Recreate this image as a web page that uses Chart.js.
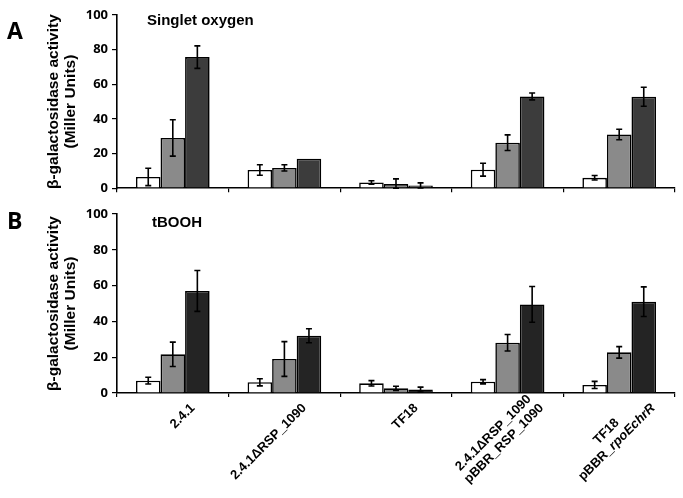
<!DOCTYPE html>
<html>
<head>
<meta charset="utf-8">
<script src="https://cdn.jsdelivr.net/npm/chart.js@4.4.1/dist/chart.umd.min.js"></script>
<style>
  html, body { margin: 0; padding: 0; background: #fff; }
  #wrap { position: relative; width: 683px; height: 498px; }
  canvas { position: absolute; left: 0; }
  #canvasA { top: 0; }
  #canvasB { top: 200px; }
</style>
</head>
<body>
<div id="wrap">
  <canvas id="canvasA" width="683" height="200"></canvas>
  <canvas id="canvasB" width="683" height="298"></canvas>
</div>
<script>
  //-----------------------
  // - DATA -
  //-----------------------
  const strains = [
    ['2.4.1'],
    ['2.4.1ΔRSP_1090'],
    ['TF18'],
    ['2.4.1ΔRSP_1090', 'pBBR_RSP_1090'],
    ['TF18', 'pBBR_rpoEchrR']
  ];
  const italicPart = 'rpoEchrR';
  const yTicks = [0, 20, 40, 60, 80, 100];

  // panel A - singlet oxygen
  const singletWhite = [6.5, 10.5, 3.3, 10.7, 6.0];
  const singletWhiteErr = [5.0, 3.0, 1.0, 3.7, 1.3];
  const singletGray = [29, 11.7, 2.4, 26.3, 31.0];
  const singletGrayErr = [10.5, 1.8, 3.0, 4.5, 3.0];
  const singletDark = [75.7, 17.0, 1.6, 53.0, 52.8];
  const singletDarkErr = [6.5, 0, 1.5, 2.0, 5.5];

  // panel B - tBOOH
  const tboohWhite = [6.9, 6.0, 5.4, 6.3, 4.5];
  const tboohWhiteErr = [1.9, 2.0, 1.5, 1.2, 2.0];
  const tboohGray = [21.6, 19.0, 2.6, 28.1, 22.7];
  const tboohGrayErr = [6.8, 9.7, 1.2, 4.6, 3.2];
  const tboohDark = [57.0, 32.0, 1.9, 49.5, 51.0];
  const tboohDarkErr = [11.4, 3.9, 1.4, 10.0, 8.3];

  //-----------------------
  // - PLUGINS -
  //-----------------------
  const errorBars = {
    id: 'errorBars',
    afterDatasetsDraw(chart) {
      const ctx = chart.ctx;
      const y = chart.scales.y;
      ctx.save();
      ctx.strokeStyle = '#000';
      ctx.lineWidth = 1.6;
      chart.data.datasets.forEach((ds, i) => {
        const meta = chart.getDatasetMeta(i);
        meta.data.forEach((bar, j) => {
          const e = ds.errors[j];
          if (!e) return;
          const top = y.getPixelForValue(ds.data[j] + e);
          const bot = y.getPixelForValue(Math.max(0, ds.data[j] - e));
          ctx.beginPath();
          ctx.moveTo(bar.x, top); ctx.lineTo(bar.x, bot);
          ctx.moveTo(bar.x - 3, top); ctx.lineTo(bar.x + 3, top);
          ctx.moveTo(bar.x - 3, bot); ctx.lineTo(bar.x + 3, bot);
          ctx.stroke();
        });
      });
      ctx.restore();
    }
  };

  const panelText = {
    id: 'panelText',
    afterDraw(chart, args, opts) {
      const ctx = chart.ctx;
      const area = chart.chartArea;
      ctx.save();
      ctx.fillStyle = '#000';
      ctx.textBaseline = 'alphabetic';
      ctx.textAlign = 'left';
      ctx.font = 'bold 23px "Open Sans"';
      ctx.fillText(opts.letter, 7, area.top + opts.letterDy);
      ctx.font = 'bold 15px "Liberation Sans"';
      ctx.fillText(opts.title, area.left + opts.titleDx, area.top + opts.titleDy);
      ctx.restore();
    }
  };

  // rotated strain names under the lower panel (part of the last one is italic)
  const strainLabels = {
    id: 'strainLabels',
    afterDraw(chart, args, opts) {
      if (!opts.show) return;
      const ctx = chart.ctx;
      const x = chart.scales.x;
      const axisY = chart.chartArea.bottom;
      const lh = 15;
      const norm = 'bold 13px "Liberation Sans"';
      const ital = 'italic bold 13px "Liberation Sans"';
      ctx.save();
      ctx.fillStyle = '#000';
      ctx.textBaseline = 'middle';
      ctx.textAlign = 'left';
      strains.forEach((lines, i) => {
        const parts = lines.map(line => {
          const k = line.indexOf(italicPart);
          if (k < 0) return [[line, norm]];
          return [[line.slice(0, k), norm], [italicPart, ital], [line.slice(k + italicPart.length), norm]];
        });
        const widths = parts.map(p => p.reduce((s, seg) => { ctx.font = seg[1]; return s + ctx.measureText(seg[0]).width; }, 0));
        const maxW = Math.max(...widths);
        const longest = widths.indexOf(maxW);
        const px = x.getPixelForValue(i) + 20 + 14 * (lines.length - 1);
        const py = axisY + 13;
        ctx.save();
        ctx.translate(px, py);
        ctx.rotate(-Math.PI / 4);
        parts.forEach((p, li) => {
          let cx = -(maxW - widths[li]) / 2 - widths[li];
          const cy = (li - longest) * lh;
          p.forEach(seg => {
            ctx.font = seg[1];
            ctx.fillText(seg[0], cx, cy);
            cx += ctx.measureText(seg[0]).width;
          });
        });
        ctx.restore();
      });
      ctx.restore();
    }
  };

  //-----------------------
  // - CHART BUILDER -
  //-----------------------
  function makeBars(white, whiteErr, gray, grayErr, dark, darkErr, darkColor) {
    const base = { borderColor: '#000', borderWidth: 1.6, barPercentage: 1.0, categoryPercentage: 0.66 };
    return [
      Object.assign({ label: 'white', data: white, errors: whiteErr, backgroundColor: '#ffffff' }, base),
      Object.assign({ label: 'gray', data: gray, errors: grayErr, backgroundColor: '#8a8a8a' }, base),
      Object.assign({ label: 'dark', data: dark, errors: darkErr, backgroundColor: darkColor }, base)
    ];
  }

  function makeChart(id, datasets, padTop, xHeight, text, showLabels) {
    const ctx = document.getElementById(id).getContext('2d');
    return new Chart(ctx, {
      type: 'bar',
      data: { labels: strains, datasets: datasets },
      plugins: [errorBars, panelText, strainLabels],
      options: {
        responsive: false,
        animation: false,
        layout: { padding: { top: padTop, right: 8, bottom: 0, left: 0 } },
        plugins: {
          legend: { display: false },
          tooltip: { enabled: false },
          panelText: text,
          strainLabels: { show: showLabels }
        },
        scales: {
          x: {
            ticks: { display: false },
            grid: { display: true, drawOnChartArea: false, offset: true, color: '#000', lineWidth: 1.2, tickLength: 4 },
            border: { color: '#000', width: 1.6 },
            afterFit: s => { s.height = xHeight; }
          },
          y: {
            min: 0,
            max: 100,
            afterBuildTicks: s => { s.ticks = yTicks.map(v => ({ value: v })); },
            ticks: { color: '#000', padding: 4, font: { family: 'Open Sans', size: 13, weight: 'bold' } },
            grid: { display: true, drawOnChartArea: false, color: '#000', lineWidth: 1.2, tickLength: 5 },
            border: { color: '#000', width: 1.6 },
            title: {
              display: true,
              text: ['β-galactosidase activity', '(Miller Units)'],
              color: '#000',
              font: { family: 'Liberation Sans', size: 15.5, weight: 'bold', lineHeight: 1.1 },
              padding: { top: 45, bottom: 0 }
            },
            afterFit: s => { s.width = 117; }
          }
        }
      }
    });
  }

  makeChart('canvasA',
    makeBars(singletWhite, singletWhiteErr, singletGray, singletGrayErr, singletDark, singletDarkErr, '#3c3c3c'),
    15, 5, { letter: 'A', letterDy: 24, title: 'Singlet oxygen', titleDx: 30, titleDy: 10 }, false);

  makeChart('canvasB',
    makeBars(tboohWhite, tboohWhiteErr, tboohGray, tboohGrayErr, tboohDark, tboohDarkErr, '#242424'),
    14, 105, { letter: 'B', letterDy: 15, title: 'tBOOH', titleDx: 35, titleDy: 13 }, true);
</script>
</body>
</html>
